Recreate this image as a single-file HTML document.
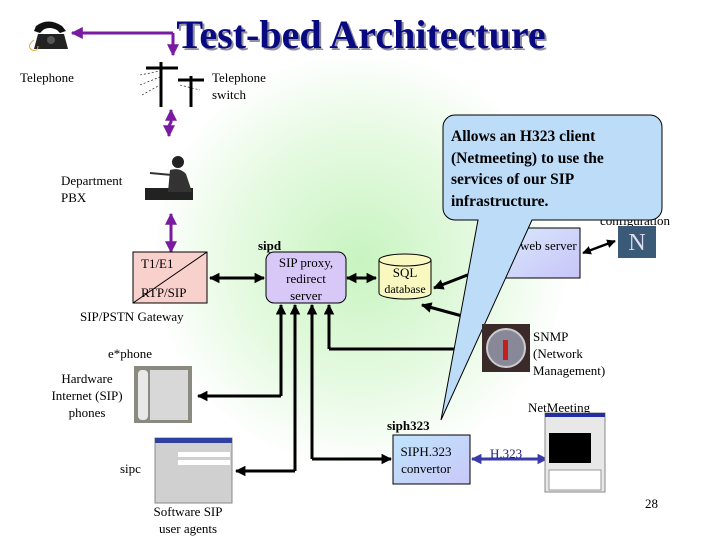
<!DOCTYPE html>
<html><head><meta charset="utf-8"><style>
html,body{margin:0;padding:0;background:#fff}
svg{display:block}
text{font-family:"Liberation Serif",serif;font-size:13px;fill:#000}
</style></head><body>
<svg width="720" height="540" viewBox="0 0 720 540" xmlns="http://www.w3.org/2000/svg">
<defs>
<radialGradient id="bg" cx="360" cy="260" r="210" gradientUnits="userSpaceOnUse">
<stop offset="0" stop-color="#c8f4c0"/><stop offset="0.6" stop-color="#e6fae2"/><stop offset="1" stop-color="#ffffff"/>
</radialGradient>
<linearGradient id="lav" x1="0" y1="0" x2="1" y2="1"><stop offset="0" stop-color="#d8e8fc"/><stop offset="1" stop-color="#c8c4f8"/></linearGradient>
<linearGradient id="blu" x1="0" y1="0" x2="1" y2="1"><stop offset="0" stop-color="#c0e4fc"/><stop offset="1" stop-color="#c8c8f8"/></linearGradient>
<marker id="ap" viewBox="0 0 10 10" refX="9" refY="5" markerWidth="4" markerHeight="4" orient="auto-start-reverse"><path d="M0,0L10,5L0,10z" fill="#7a1aa0"/></marker>
<marker id="ak" viewBox="0 0 10 10" refX="9" refY="5" markerWidth="3.5" markerHeight="3.5" orient="auto-start-reverse"><path d="M0,0L10,5L0,10z" fill="#000"/></marker>
<marker id="ab" viewBox="0 0 10 10" refX="9" refY="5" markerWidth="3.5" markerHeight="3.5" orient="auto-start-reverse"><path d="M0,0L10,5L0,10z" fill="#3a3aa8"/></marker>
</defs>
<rect x="0" y="0" width="720" height="540" fill="#fff"/>
<rect x="130" y="60" width="470" height="420" fill="url(#bg)"/>

<!-- Title -->
<text x="363" y="50" text-anchor="middle" style="font-size:40px;font-weight:bold;fill:#9090a0">Test-bed Architecture</text>
<text x="361" y="48" text-anchor="middle" style="font-size:40px;font-weight:bold;fill:#0a0a80">Test-bed Architecture</text>

<!-- telephone icon -->
<g>
<path d="M36,26 q12,-9 26,0 l4,5 -6,2 -3,-3 q-8,-4 -14,0 l-3,3 -6,-2z" fill="#111"/>
<path d="M38,34 h26 l4,15 h-34z" fill="#222"/>
<circle cx="51" cy="40" r="4" fill="#555"/>
<path d="M34,40 q-8,6 -2,10 q6,2 6,-4" fill="none" stroke="#d8b040" stroke-width="1"/>
</g>
<text x="20" y="82">Telephone</text>

<!-- purple lines -->
<path d="M173,33 H72" stroke="#7a1aa0" stroke-width="3" fill="none" marker-end="url(#ap)"/>
<path d="M173,33 V55" stroke="#7a1aa0" stroke-width="3" fill="none" marker-end="url(#ap)"/>
<path d="M171,110 V122 L169,126 V136" stroke="#7a1aa0" stroke-width="3" fill="none" marker-start="url(#ap)" marker-end="url(#ap)"/>
<path d="M171,214 V252" stroke="#7a1aa0" stroke-width="3" fill="none" marker-start="url(#ap)" marker-end="url(#ap)"/>

<!-- switch icon -->
<g stroke="#000">
<line x1="161" y1="62" x2="161" y2="107" stroke-width="3"/>
<line x1="191" y1="76" x2="191" y2="107" stroke-width="3"/>
<line x1="146" y1="68" x2="178" y2="68" stroke-width="3"/>
<line x1="178" y1="80" x2="204" y2="80" stroke-width="3"/>
<path d="M140,75 l20,-4 M140,85 l20,-8 M142,95 l18,-10 M180,85 l20,5" stroke-width="0.6" stroke-dasharray="2,2"/>
</g>
<text x="212" y="82">Telephone</text>
<text x="212" y="99">switch</text>

<!-- PBX icon -->
<g>
<path d="M145,188 h48 v12 h-48z" fill="#222"/>
<circle cx="178" cy="162" r="6" fill="#222"/>
<path d="M170,170 q10,-3 16,4 l6,18 h-24z" fill="#333"/>
<path d="M150,173 l22,2" stroke="#333" stroke-width="2"/>
</g>
<text x="61" y="185">Department</text>
<text x="61" y="202">PBX</text>

<!-- Gateway -->
<rect x="133" y="252" width="74" height="51" fill="#f8d0cc" stroke="#000" stroke-width="1"/>
<line x1="133" y1="303" x2="207" y2="252" stroke="#000" stroke-width="1"/>
<text x="141" y="268">T1/E1</text>
<text x="141" y="297">RTP/SIP</text>
<text x="80" y="321">SIP/PSTN Gateway</text>

<!-- sipd -->
<text x="258" y="250" style="font-weight:bold">sipd</text>
<rect x="266" y="252" width="80" height="51" rx="8" fill="#d8c8f8" stroke="#000" stroke-width="1"/>
<text x="306" y="267" text-anchor="middle">SIP proxy,</text>
<text x="306" y="283" text-anchor="middle">redirect</text>
<text x="306" y="300" text-anchor="middle">server</text>
<path d="M210,278 H264" stroke="#000" stroke-width="3" marker-start="url(#ak)" marker-end="url(#ak)"/>
<path d="M347,278 H376" stroke="#000" stroke-width="3" marker-start="url(#ak)" marker-end="url(#ak)"/>

<!-- SQL -->
<path d="M379,260 V293 A26,6 0 0 0 431,293 V260" fill="#f8f8c0" stroke="#000" stroke-width="1"/>
<ellipse cx="405" cy="260" rx="26" ry="6" fill="#f8f8c0" stroke="#000" stroke-width="1"/>
<text x="405" y="277" text-anchor="middle">SQL</text>
<text x="405" y="293" text-anchor="middle" style="font-size:12px">database</text>
<path d="M470,274 L434,288" stroke="#000" stroke-width="3" marker-end="url(#ak)"/>
<path d="M484,322 L422,305" stroke="#000" stroke-width="3" marker-end="url(#ak)"/>

<!-- web server -->
<rect x="505" y="228" width="75" height="50" fill="url(#lav)" stroke="#000" stroke-width="1"/>
<text x="520" y="250">web server</text>
<path d="M583,253 L615,241" stroke="#000" stroke-width="2.5" marker-start="url(#ak)" marker-end="url(#ak)"/>
<text x="600" y="208">Web based</text>
<text x="600" y="225">configuration</text>
<rect x="618" y="226" width="38" height="32" fill="#3a5a78"/>
<text x="637" y="250" text-anchor="middle" style="font-size:24px;fill:#dde">N</text>

<!-- vertical lines from proxy -->
<path d="M281,396 V305" stroke="#000" stroke-width="3" marker-end="url(#ak)"/>
<path d="M281,396 H198" stroke="#000" stroke-width="3" marker-end="url(#ak)"/>
<path d="M295,471 V305" stroke="#000" stroke-width="3" marker-end="url(#ak)"/>
<path d="M295,471 H236" stroke="#000" stroke-width="3" marker-end="url(#ak)"/>
<path d="M312,459 V305" stroke="#000" stroke-width="3" marker-end="url(#ak)"/>
<path d="M312,459 H391" stroke="#000" stroke-width="3" marker-end="url(#ak)"/>
<path d="M329,349 V305" stroke="#000" stroke-width="3" marker-end="url(#ak)"/>
<path d="M329,349 H470" stroke="#000" stroke-width="3"/>

<!-- callout -->
<path d="M455,115 H650 a12,12 0 0 1 12,12 V208 a12,12 0 0 1 -12,12 H532 L441,420 L478,220 H455 a12,12 0 0 1 -12,-12 V127 a12,12 0 0 1 12,-12z" fill="#bcdcf8" stroke="#000" stroke-width="1"/>
<text x="451" y="141" style="font-size:15.5px;font-weight:bold">Allows an H323 client</text>
<text x="451" y="163" style="font-size:15.5px;font-weight:bold">(Netmeeting) to use the</text>
<text x="451" y="184" style="font-size:15.5px;font-weight:bold">services of our SIP</text>
<text x="451" y="206" style="font-size:15.5px;font-weight:bold">infrastructure.</text>

<!-- SNMP -->
<rect x="482" y="324" width="48" height="48" fill="#3a2a2a"/>
<circle cx="506" cy="348" r="19" fill="#889" stroke="#ccc" stroke-width="2"/>
<rect x="503" y="340" width="5" height="20" fill="#c02020"/>
<text x="533" y="341">SNMP</text>
<text x="533" y="358">(Network</text>
<text x="533" y="375">Management)</text>

<!-- e*phone -->
<text x="108" y="358">e*phone</text>
<text x="87" y="383" text-anchor="middle">Hardware</text>
<text x="87" y="400" text-anchor="middle">Internet (SIP)</text>
<text x="87" y="417" text-anchor="middle">phones</text>
<rect x="134" y="366" width="58" height="57" fill="#8a8a80"/>
<rect x="150" y="370" width="38" height="50" fill="#d8d8d8"/>
<rect x="138" y="370" width="10" height="50" rx="4" fill="#e8e8e8"/>

<!-- sipc -->
<text x="120" y="473">sipc</text>
<rect x="155" y="438" width="77" height="65" fill="#d0d0d0" stroke="#888"/>
<rect x="155" y="438" width="77" height="5" fill="#3040a0"/>
<rect x="178" y="452" width="52" height="5" fill="#fff"/>
<rect x="178" y="460" width="52" height="5" fill="#fff"/>
<text x="188" y="516" text-anchor="middle">Software SIP</text>
<text x="188" y="533" text-anchor="middle">user agents</text>

<!-- siph323 -->
<text x="387" y="430" style="font-weight:bold">siph323</text>
<rect x="393" y="435" width="77" height="49" fill="url(#blu)" stroke="#000" stroke-width="1"/>
<text x="426" y="456" text-anchor="middle">SIPH.323</text>
<text x="426" y="473" text-anchor="middle">convertor</text>
<path d="M472,459 H547" stroke="#3a3aa8" stroke-width="3" marker-start="url(#ab)" marker-end="url(#ab)"/>
<text x="490" y="458" style="fill:#1a1a88">H.323</text>

<!-- NetMeeting -->
<text x="528" y="412">NetMeeting</text>
<rect x="545" y="413" width="60" height="79" fill="#e8e8e8" stroke="#888"/>
<rect x="545" y="413" width="60" height="4" fill="#2030a0"/>
<rect x="549" y="433" width="42" height="30" fill="#000"/>
<rect x="549" y="470" width="52" height="20" fill="#fff" stroke="#999"/>

<text x="645" y="508">28</text>
</svg>
</body></html>
